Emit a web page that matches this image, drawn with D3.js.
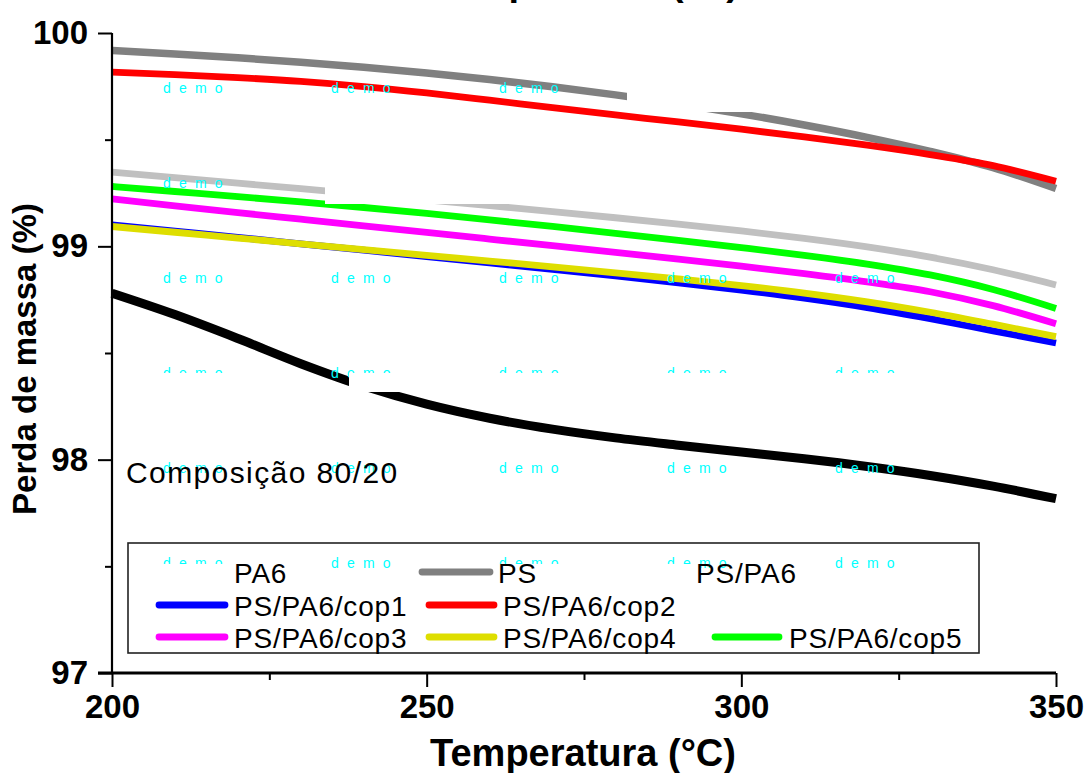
<!DOCTYPE html>
<html>
<head>
<meta charset="utf-8">
<script src="https://cdn.jsdelivr.net/npm/d3@7"></script>
<style>
  html, body { margin: 0; padding: 0; background: #fff; }
  svg { display: block; }
</style>
</head>
<body>
<svg id="chart" width="1086" height="773"></svg>
<script>
// ---------- data ----------
const temps = [200, 210, 220, 230, 240, 250, 260, 270, 280, 290, 300, 310, 320, 330, 340, 350];
const pa6   = [98.780, 98.680, 98.568, 98.450, 98.345, 98.260, 98.194, 98.143, 98.102, 98.068, 98.036, 98.004, 97.968, 97.926, 97.876, 97.817];
const ps    = [99.918, 99.902, 99.884, 99.863, 99.839, 99.812, 99.782, 99.748, 99.710, 99.668, 99.621, 99.569, 99.511, 99.445, 99.369, 99.271];
const psPa6 = [99.348, 99.322, 99.296, 99.270, 99.244, 99.218, 99.191, 99.163, 99.134, 99.104, 99.072, 99.037, 98.997, 98.949, 98.890, 98.819];
const cop1  = [99.100, 99.071, 99.042, 99.012, 98.982, 98.952, 98.922, 98.892, 98.861, 98.829, 98.795, 98.757, 98.713, 98.661, 98.604, 98.547];
const cop2  = [99.817, 99.805, 99.791, 99.773, 99.749, 99.719, 99.685, 99.650, 99.616, 99.583, 99.549, 99.513, 99.474, 99.430, 99.378, 99.305];
const cop3  = [99.222, 99.190, 99.158, 99.127, 99.096, 99.065, 99.034, 99.003, 98.972, 98.940, 98.907, 98.872, 98.833, 98.787, 98.722, 98.637];
const cop4  = [99.093, 99.066, 99.039, 99.012, 98.985, 98.958, 98.931, 98.904, 98.876, 98.847, 98.816, 98.781, 98.740, 98.691, 98.635, 98.577];
const cop5  = [99.281, 99.257, 99.233, 99.208, 99.182, 99.154, 99.124, 99.093, 99.061, 99.028, 98.994, 98.958, 98.917, 98.866, 98.798, 98.709];

const seriesNames  = ["PA6", "PS", "PS/PA6", "PS/PA6/cop1", "PS/PA6/cop2", "PS/PA6/cop3", "PS/PA6/cop4", "PS/PA6/cop5"];
const seriesValues = [pa6, ps, psPa6, cop1, cop2, cop3, cop4, cop5];

const xTicks = [200, 250, 300, 350];
const xMinorTicks = [225, 275, 325];
const yTicks = [97, 98, 99, 100];
const yMinorTicks = [97.5, 98.5, 99.5];

const xTitle = "Temperatura (°C)";
const yTitle = "Perda de massa (%)";
const annotation = "Composição 80/20";
const watermark = "demo";

// ---------- styles / layout ----------
const seriesColors = ["#000000", "#808080", "#c0c0c0", "#0000ff", "#ff0000", "#ff00ff", "#dede00", "#00ff00"];
const seriesWidths = [9, 7.5, 6.8, 6.8, 6.8, 6.8, 6.8, 6.8];
const FONT = "Arial, 'Liberation Sans', Helvetica, sans-serif";

const plot = { left: 112, right: 1056, top: 33, bottom: 673 };

const svg = d3.select("#chart");
const x = d3.scaleLinear().domain([200, 350]).range([plot.left, plot.right]);
const y = d3.scaleLinear().domain([97, 100]).range([plot.bottom, plot.top]);

// ---------- series lines ----------
const line = d3.line().x((d, i) => x(temps[i])).y(d => y(d)).curve(d3.curveMonotoneX);
const gLines = svg.append("g");
seriesValues.forEach((vals, k) => {
  gLines.append("path")
    .attr("d", line(vals))
    .attr("fill", "none")
    .attr("stroke", seriesColors[k])
    .attr("stroke-width", seriesWidths[k])
    .attr("stroke-linejoin", "round")
    .attr("stroke-linecap", "butt");
});

// ---------- watermark ("demo") layer of the original software ----------
const wmCols = [163, 331, 499, 667, 835];
const wmRows = [93, 188, 283, 378, 473, 568];
const gWm = svg.append("g");
wmRows.forEach(ry => wmCols.forEach(cx => {
  gWm.append("text").attr("x", cx).attr("y", ry)
    .attr("font-family", FONT).attr("font-size", 14)
    .attr("letter-spacing", "8.2px")
    .attr("fill", "#00ffff").text(watermark);
}));
// white patches from the export that hide parts of lines / watermark
const patches = [
  [627, 55, 278, 57],
  [325, 165, 580, 39],
  [349, 373, 556, 19],
  [150, 373, 150, 9],
  [150, 564, 83, 20],
  [495, 564, 199, 20]
];
svg.append("g").selectAll("rect").data(patches).join("rect")
  .attr("x", d => d[0]).attr("y", d => d[1]).attr("width", d => d[2]).attr("height", d => d[3])
  .attr("fill", "#fff");

// ---------- axes ----------
const yAxis = d3.axisLeft(y).tickValues(yTicks).tickSize(14).tickPadding(10).tickFormat(d3.format("d"));
const gy = svg.append("g").attr("transform", `translate(${plot.left},0)`).call(yAxis);
gy.select(".domain").attr("stroke", "#000").attr("stroke-width", 2.2).attr("d", `M0,${plot.top}V${plot.bottom}`);
gy.selectAll(".tick line").attr("stroke", "#000").attr("stroke-width", 2);
gy.selectAll(".tick text").attr("font-family", FONT).attr("font-size", 33).attr("font-weight", "bold").attr("fill", "#000");
const gyMinor = svg.append("g").attr("transform", `translate(${plot.left},0)`)
  .call(d3.axisLeft(y).tickValues(yMinorTicks).tickSize(7).tickFormat(""));
gyMinor.select(".domain").remove();
gyMinor.selectAll(".tick line").attr("stroke", "#000").attr("stroke-width", 2);

const xAxis = d3.axisBottom(x).tickValues(xTicks).tickSize(14).tickPadding(8).tickFormat(d3.format("d"));
const gx = svg.append("g").attr("transform", `translate(0,${plot.bottom})`).call(xAxis);
gx.select(".domain").attr("stroke", "#000").attr("stroke-width", 3).attr("d", `M${plot.left - 14},0H${plot.right}`);
gx.selectAll(".tick line").attr("stroke", "#000").attr("stroke-width", 2);
gx.selectAll(".tick text").attr("font-family", FONT).attr("font-size", 33).attr("font-weight", "bold").attr("fill", "#000");
const gxMinor = svg.append("g").attr("transform", `translate(0,${plot.bottom})`)
  .call(d3.axisBottom(x).tickValues(xMinorTicks).tickSize(7).tickFormat(""));
gxMinor.select(".domain").remove();
gxMinor.selectAll(".tick line").attr("stroke", "#000").attr("stroke-width", 2);

// ---------- titles ----------
const xMid = (plot.left + plot.right) / 2;
svg.append("text").attr("x", xMid - 1).attr("y", 766)
  .attr("text-anchor", "middle").attr("font-family", FONT).attr("font-size", 38).attr("font-weight", "bold")
  .text(xTitle);
// top title (mostly outside the picture, as in the source)
svg.append("text").attr("x", xMid + 2).attr("y", -5)
  .attr("text-anchor", "middle").attr("font-family", FONT).attr("font-size", 38).attr("font-weight", "bold")
  .text(xTitle);
svg.append("text")
  .attr("transform", `translate(36,${(plot.top + plot.bottom) / 2 + 6}) rotate(-90)`)
  .attr("text-anchor", "middle").attr("font-family", FONT).attr("font-size", 33).attr("font-weight", "bold")
  .text(yTitle);

svg.append("text").attr("x", 126).attr("y", 483)
  .attr("font-family", FONT).attr("font-size", 30).attr("letter-spacing", "1.4px")
  .text(annotation);

// ---------- legend ----------
svg.append("rect").attr("x", 128).attr("y", 543).attr("width", 851).attr("height", 110)
  .attr("fill", "none").attr("stroke", "#222").attr("stroke-width", 1.6);
const legendRowsY = [572, 605, 637];
const legendSlots = [
  { row: 0, x1: 159, x2: 225, tx: 234 },
  { row: 0, x1: 422, x2: 490, tx: 498 },
  { row: 0, x1: 625, x2: 689, tx: 696 },
  { row: 1, x1: 159, x2: 225, tx: 234 },
  { row: 1, x1: 429, x2: 494, tx: 503 },
  { row: 2, x1: 159, x2: 225, tx: 234 },
  { row: 2, x1: 429, x2: 494, tx: 503 },
  { row: 2, x1: 715, x2: 779, tx: 789 }
];
const gLegLines = svg.append("g");
seriesNames.forEach((name, k) => {
  const s = legendSlots[k];
  const ly = legendRowsY[s.row];
  gLegLines.append("line").attr("x1", s.x1).attr("x2", s.x2).attr("y1", ly).attr("y2", ly)
    .attr("stroke", seriesColors[k]).attr("stroke-width", 6.8).attr("stroke-linecap", "round");
});
// export patches over two legend samples (as in the source image)
svg.append("g").selectAll("rect").data(patches.slice(4)).join("rect")
  .attr("x", d => d[0]).attr("y", d => d[1]).attr("width", d => d[2]).attr("height", d => d[3])
  .attr("fill", "#fff");
const gLegText = svg.append("g");
seriesNames.forEach((name, k) => {
  const s = legendSlots[k];
  const ly = legendRowsY[s.row];
  gLegText.append("text").attr("x", s.tx).attr("y", ly + 10.5)
    .attr("font-family", FONT).attr("font-size", 28).attr("letter-spacing", "0.8px")
    .attr("fill", "#000").text(name);
});
</script>
</body>
</html>
